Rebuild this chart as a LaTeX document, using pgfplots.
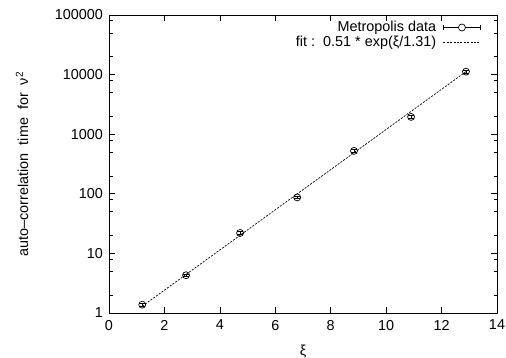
\documentclass[border=0pt]{standalone}
\usepackage{fontspec}
\setmainfont{Liberation Sans}
\usepackage{pgfplots}
\pgfplotsset{compat=1.18}
\begin{document}
\fontsize{14.4}{17}\selectfont
\begin{tikzpicture}
\useasboundingbox (0,0) rectangle (506pt,358pt);
\begin{axis}[
  at={(109pt,45pt)}, anchor=south west,
  scale only axis, width=388pt, height=298pt,
  xmin=0, xmax=14, ymin=1, ymax=100000,
  ymode=log,
  xtick={0,2,...,14},
  ytick={1,10,100,1000,10000,100000},
  yticklabels={1,10,100,1000,10000,100000},
  minor ytick={2,5,8,20,50,80,200,500,800,2000,5000,8000,20000,50000,80000},
  tick align=inside,
  major tick length=6pt, minor tick length=3.5pt,
  tick style={line width=0.6pt, black},
  axis line style={line width=0.9pt},
  /pgf/number format/assume math mode=true,
  ticklabel style={font=\fontsize{14.4}{17}\selectfont},
  xticklabel style={yshift=-2pt},
  yticklabel style={xshift=-1pt},
  xlabel={ξ}, ylabel={auto--correlation\ \ time\ \ for\ \ ν\textsuperscript{2}},
  xlabel style={font=\fontsize{14.4}{17}\selectfont, yshift=-5pt},
  ylabel style={font=\fontsize{14.4}{17}\selectfont, yshift=17pt},
  legend plot pos=right,
  legend cell align=right,
  legend style={at={(1,1)}, anchor=north east, xshift=-14pt, yshift=-2pt,
    draw=none, fill=none, font=\fontsize{14.4}{17}\selectfont,
    row sep=-2pt, inner sep=2pt},
]
\addplot+[black, line width=0.6pt, only marks, mark=o, mark size=3.5pt,
  mark options={line width=0.7pt},
  legend image code/.code={
    \draw[line width=0.6pt] (0pt,0pt) -- (37pt,0pt) (0pt,-2.5pt) -- (0pt,2.5pt) (37pt,-2.5pt) -- (37pt,2.5pt);
    \draw[line width=0.7pt, fill=white] (18.5pt,0pt) circle (3.5pt);
  },
  error bars/.cd, y dir=both, y explicit relative,
  error mark options={line width=0.6pt, mark size=3pt, rotate=90}]
  table[x=x, y=y, y error=e] {
x y e
1.20 1.38 0.06
2.78 4.3 0.05
4.73 22 0.05
6.79 87 0.05
8.84 525 0.05
10.90 1950 0.05
12.88 11200 0.05
};
\addlegendentry{Metropolis data\hspace*{5pt}}
\addplot[black, line width=0.7pt, dash pattern=on 2pt off 1.4pt, no marks,
  legend image code/.code={
    \draw[line width=0.7pt, dash pattern=on 2pt off 1.4pt] (0pt,0pt) -- (37pt,0pt);
  }]
  coordinates {(1.2,1.30) (12.9,11400)};
\addlegendentry{fit :\ \ 0.51 * exp(ξ/1.31)\hspace*{5pt}}
\end{axis}
\end{tikzpicture}
\end{document}
